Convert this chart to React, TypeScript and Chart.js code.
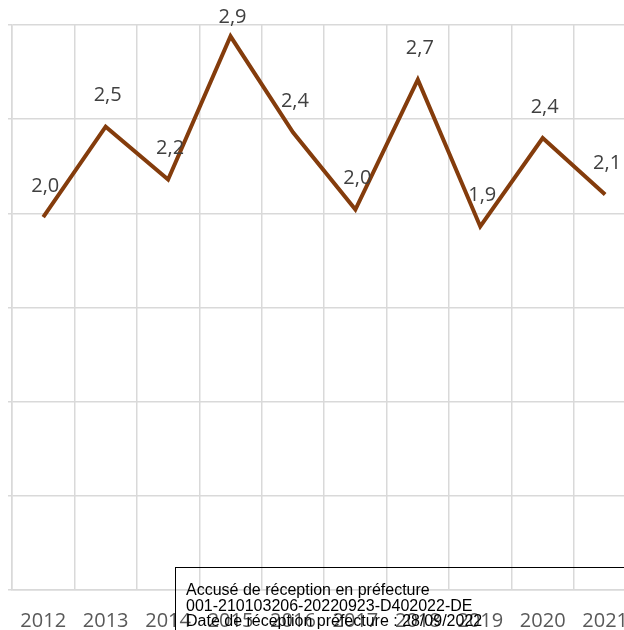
import React, { useEffect, useRef } from "react";
import { Chart, registerables } from "chart.js";

Chart.register(...registerables);

const years = ["2012", "2013", "2014", "2015", "2016", "2017", "2018", "2019", "2020", "2021"];
const values = [1.98, 2.46, 2.18, 2.94, 2.43, 2.02, 2.71, 1.93, 2.4, 2.1];
const yMin = 0;
const yMax = 3;
const yStep = 0.5;
const stampLines = [
  "Accusé de réception en préfecture",
  "001-210103206-20220923-D402022-DE",
  "Date de réception préfecture : 28/09/2022",
];

const GRID = "#d9d9d9";
const LINE = "#843c0c";

const dataLabels = {
  id: "dataLabels",
  afterDatasetsDraw(chart: any) {
    const ctx = chart.ctx;
    const meta = chart.getDatasetMeta(0);
    const ds = chart.data.datasets[0];
    ctx.save();
    ctx.font = "20px 'Open Sans'";
    ctx.fillStyle = "#404040";
    ctx.textAlign = "center";
    ctx.textBaseline = "middle";
    meta.data.forEach((pt: any, i: number) => {
      const v = ds.data[i] as number;
      const txt = v.toFixed(1).replace(".", ",");
      const y = Math.max(pt.y - 31, chart.chartArea.top - 8);
      ctx.fillText(txt, pt.x + 2, y);
    });
    ctx.restore();
  },
};

export default function App() {
  const ref = useRef<HTMLCanvasElement | null>(null);
  useEffect(() => {
    if (!ref.current) return;
    const chart = new Chart(ref.current, {
      type: "line",
      data: {
        labels: years,
        datasets: [
          {
            data: values,
            borderColor: LINE,
            borderWidth: 4,
            pointRadius: 0,
            tension: 0,
            fill: false,
          },
        ],
      },
      options: {
        responsive: false,
        animation: false,
        devicePixelRatio: 1,
        layout: { padding: { left: 8, top: 25, right: 0, bottom: 0 } },
        plugins: { legend: { display: false }, tooltip: { enabled: false } },
        scales: {
          x: {
            type: "category",
            offset: true,
            grid: { offset: true, color: GRID, lineWidth: 1.5, drawTicks: false },
            border: { color: GRID, width: 1.5 },
            ticks: {
              padding: 19,
              color: "#595959",
              font: { family: "'Open Sans'", size: 20 },
              maxRotation: 0,
              autoSkip: false,
            },
          },
          y: {
            min: yMin,
            max: yMax,
            ticks: { stepSize: yStep, display: false },
            grid: { color: GRID, lineWidth: 1.5, tickLength: 4, drawTicks: true },
            border: { color: GRID, width: 1.5 },
          },
        },
      },
      plugins: [dataLabels],
    });
    return () => chart.destroy();
  }, []);

  return (
    <div
      style={{
        position: "fixed",
        left: 0,
        top: 0,
        width: 624,
        height: 630,
        overflow: "hidden",
        background: "#fff",
      }}
    >
      <canvas ref={ref} width={647} height={652} style={{ position: "absolute", left: 0, top: 0 }} />
      <div
        style={{
          position: "absolute",
          left: 175,
          top: 567,
          width: 480,
          height: 100,
          border: "1px solid #000",
          boxSizing: "border-box",
          padding: "14px 0 0 10px",
          fontFamily: "'Liberation Sans', Arial, sans-serif",
          fontSize: 16,
          lineHeight: "15.5px",
          color: "#000",
          whiteSpace: "nowrap",
        }}
      >
        {stampLines.map((l, i) => (
          <div key={i}>{l}</div>
        ))}
      </div>
    </div>
  );
}
